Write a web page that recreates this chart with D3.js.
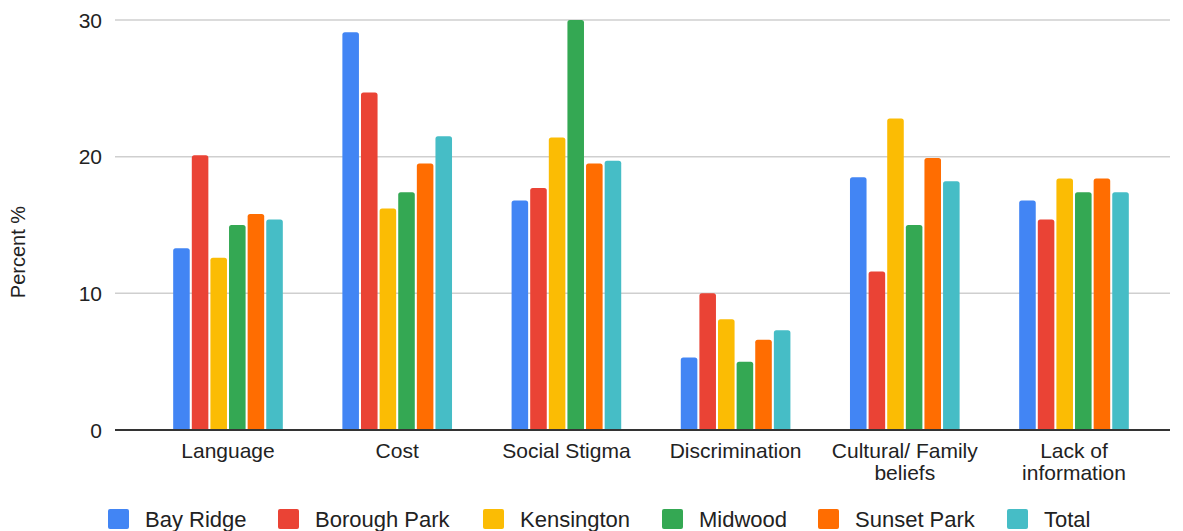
<!DOCTYPE html>
<html>
<head>
<meta charset="utf-8">
<script src="https://cdn.jsdelivr.net/npm/d3@7"></script>
<style>
  html, body { margin: 0; padding: 0; background: #fff; }
  svg { display: block; }
  text { font-family: "Liberation Sans", Arial, sans-serif; fill: #222; }
</style>
</head>
<body>
<svg id="chart" width="1183" height="531"></svg>
<script>
const categories = ["Language", "Cost", "Social Stigma", "Discrimination", "Cultural/ Family beliefs", "Lack of information"];
const categoryLines = [["Language"], ["Cost"], ["Social Stigma"], ["Discrimination"], ["Cultural/ Family", "beliefs"], ["Lack of", "information"]];
const seriesNames = ["Bay Ridge", "Borough Park", "Kensington", "Midwood", "Sunset Park", "Total"];
const seriesColors = ["#4285F4", "#EA4335", "#FBBC04", "#34A853", "#FF6D01", "#46BDC6"];
const bayRidge    = [13.3, 29.1, 16.8, 5.3, 18.5, 16.8];
const boroughPark = [20.1, 24.7, 17.7, 10.0, 11.6, 15.4];
const kensington  = [12.6, 16.2, 21.4, 8.1, 22.8, 18.4];
const midwood     = [15.0, 17.4, 30.0, 5.0, 15.0, 17.4];
const sunsetPark  = [15.8, 19.5, 19.5, 6.6, 19.9, 18.4];
const total       = [15.4, 21.5, 19.7, 7.3, 18.2, 17.4];
const yTicks = [0, 10, 20, 30];
const yLabel = "Percent %";

const seriesValues = [bayRidge, boroughPark, kensington, midwood, sunsetPark, total];

const svg = d3.select("#chart");
const plotLeft = 115, plotRight = 1170;
const y = d3.scaleLinear().domain([0, 30]).range([430, 20]);

const x0 = d3.scaleBand().domain(categories).range([143.4, 1158.6]).paddingInner(0.352).paddingOuter(0.176);
const x1 = d3.scaleBand().domain(seriesNames).range([0, x0.bandwidth()]).paddingInner(0.11).paddingOuter(0);

// gridlines
svg.append("g").selectAll("line").data(yTicks.filter(t => t !== 0)).join("line")
  .attr("x1", plotLeft).attr("x2", plotRight)
  .attr("y1", d => y(d)).attr("y2", d => y(d))
  .attr("stroke", "#cfcfcf").attr("stroke-width", 1.5);

// y tick labels
svg.append("g").selectAll("text").data(yTicks).join("text")
  .attr("x", 102).attr("y", d => y(d)).attr("dy", "0.36em")
  .attr("text-anchor", "end").attr("font-size", 21).text(d => d);

// y axis title
svg.append("text")
  .attr("transform", "translate(25,252) rotate(-90)")
  .attr("text-anchor", "middle").attr("font-size", 20).text(yLabel);

// bars
function topRounded(x, yTop, w, h, r) {
  r = Math.min(r, h, w / 2);
  return `M${x},${yTop + h}V${yTop + r}Q${x},${yTop} ${x + r},${yTop}H${x + w - r}Q${x + w},${yTop} ${x + w},${yTop + r}V${yTop + h}Z`;
}
const groups = svg.append("g").selectAll("g").data(categories).join("g")
  .attr("transform", d => `translate(${x0(d)},0)`);
groups.selectAll("path").data((c, ci) => seriesNames.map((s, si) => ({ s, si, v: seriesValues[si][ci] }))).join("path")
  .attr("d", d => topRounded(x1(d.s), y(d.v), x1.bandwidth(), y(0) - y(d.v), 2.5))
  .attr("fill", d => seriesColors[d.si]);

// baseline axis
svg.append("line").attr("x1", plotLeft).attr("x2", plotRight).attr("y1", y(0)).attr("y2", y(0))
  .attr("stroke", "#333").attr("stroke-width", 2);

// x labels
const xl = svg.append("g").selectAll("text").data(categories).join("text")
  .attr("text-anchor", "middle").attr("font-size", 21)
  .attr("x", d => x0(d) + x0.bandwidth() / 2).attr("y", 458);
xl.selectAll("tspan").data((d, i) => categoryLines[i]).join("tspan")
  .attr("x", function () { return d3.select(this.parentNode).attr("x"); })
  .attr("dy", (d, i) => i === 0 ? 0 : 22).text(d => d);

// legend
const legendX = [108, 278, 483, 662, 818, 1007];
const lg = svg.append("g").selectAll("g").data(seriesNames).join("g")
  .attr("transform", (d, i) => `translate(${legendX[i]},509)`);
lg.append("rect").attr("width", 21).attr("height", 20).attr("rx", 2).attr("fill", (d, i) => seriesColors[i]);
lg.append("text").attr("x", 37).attr("y", 18).attr("font-size", 22).text(d => d);
</script>
</body>
</html>
